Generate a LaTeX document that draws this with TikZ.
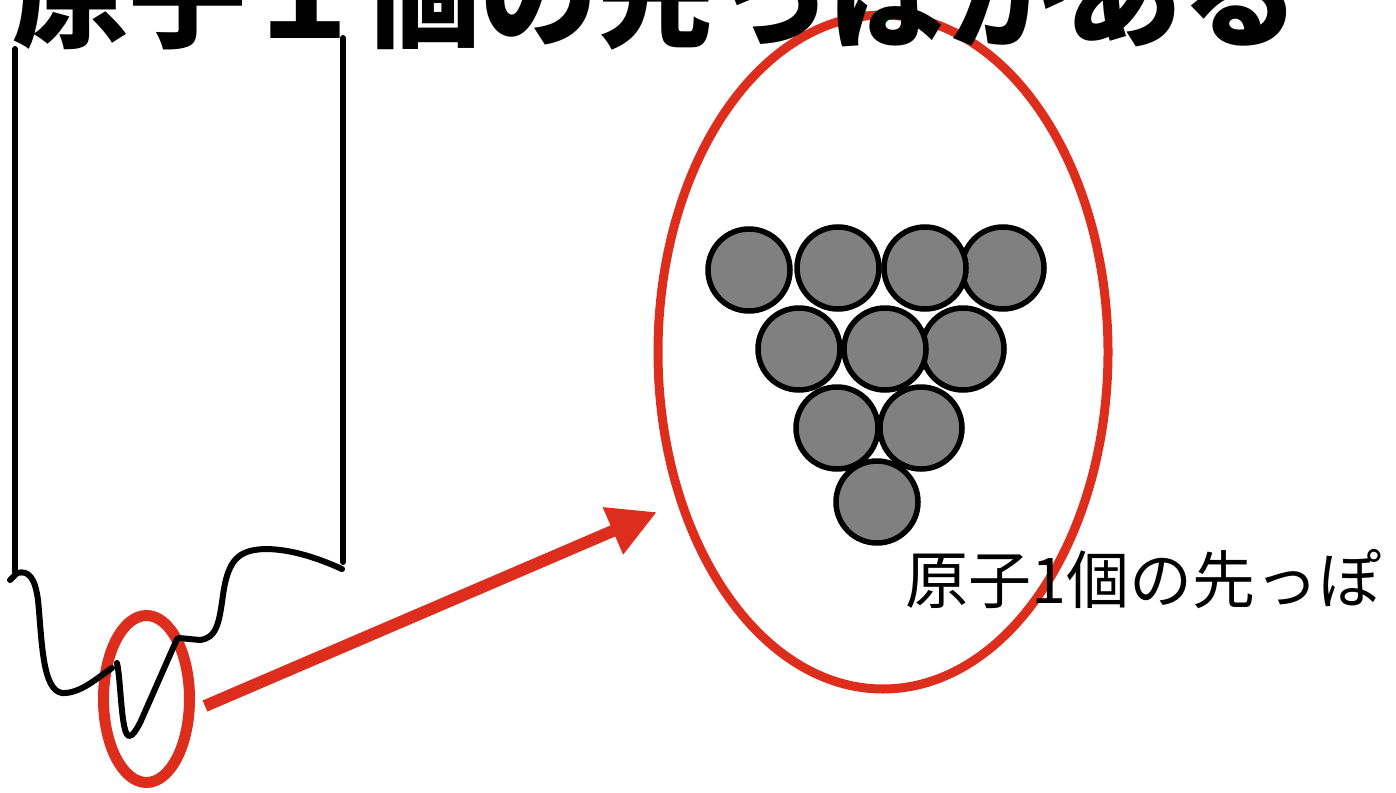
\documentclass[tikz,border=0pt]{standalone}
\usepackage{fontspec}
\newfontfamily\jpfont{Noto Sans CJK JP}
\usetikzlibrary{arrows.meta}
\definecolor{markred}{RGB}{221,45,28}
\definecolor{atomgray}{RGB}{128,128,128}

\begin{document}
\begin{tikzpicture}[x=1pt,y=-1pt,
  probe/.style={draw=black, line width=6pt, line cap=round, line join=round},
  ring/.style={draw=markred},
  atom/.style={circle, draw=black, fill=atomgray, line width=5.5pt,
               minimum size=82pt, inner sep=0pt},
  pointer/.style={draw=markred, line width=12pt,
                  -{Triangle[length=48pt,width=48pt]}},
]
\useasboundingbox (0,0) rectangle (1396,792);

% magnified view of the tip
\draw[ring, line width=9pt] (883,352) ellipse [x radius=225pt, y radius=337pt];

% title
\node[anchor=base west, inner sep=0pt,
      font=\jpfont\bfseries\fontsize{117}{117}\selectfont] (title) at (12,38)
  {原子１個の先っぽがある};

% circled apex of the probe
\draw[ring, line width=11pt] (146.5,699) ellipse [x radius=43pt, y radius=83.5pt];

% probe body
\draw[probe] (15,49) -- (15,572);
\draw[probe] (343,38) -- (343,562);
\draw[probe] (10,580) -- (17,573)
  .. controls (29,570) and (35,578) .. (38,600)
  .. controls (42,640) and (42,690) .. (62,693)
  .. controls (80,694) and (97,678) .. (112,668);
\draw[probe] (117,663)
  .. controls (121,680) and (121,735) .. (129,736)
  .. controls (133,736) and (136,730) .. (140,723)
  -- (177,639);
\draw[probe] (179,638) -- (200,640)
  .. controls (216,638) and (219,625) .. (223,595)
  .. controls (228,560) and (238,550) .. (265,549)
  .. controls (292,549) and (320,559) .. (342,569);

% arrow from the apex to the magnified view
\coordinate (arrowfrom) at (205,706);
\coordinate (arrowto) at (657,512);
\draw[pointer] (arrowfrom) -- (arrowto);

% atoms at the tip
\node[atom] (a4) at (1003,268) {};
\node[atom] (a1) at (749,270) {};
\node[atom] (a2) at (838,268) {};
\node[atom] (a3) at (925,268) {};
\node[atom] (a7) at (963,349) {};
\node[atom] (a5) at (799,349) {};
\node[atom] (a6) at (885,349) {};
\node[atom] (a9) at (921,428) {};
\node[atom] (a8) at (837,428) {};
\node[atom] (a10) at (877,502) {};

% caption
\node[anchor=base west, inner sep=0pt,
      font=\jpfont\fontsize{63}{63}\selectfont] (caption) at (905,603)
  {原子1個の先っぽ};
\end{tikzpicture}
\end{document}
